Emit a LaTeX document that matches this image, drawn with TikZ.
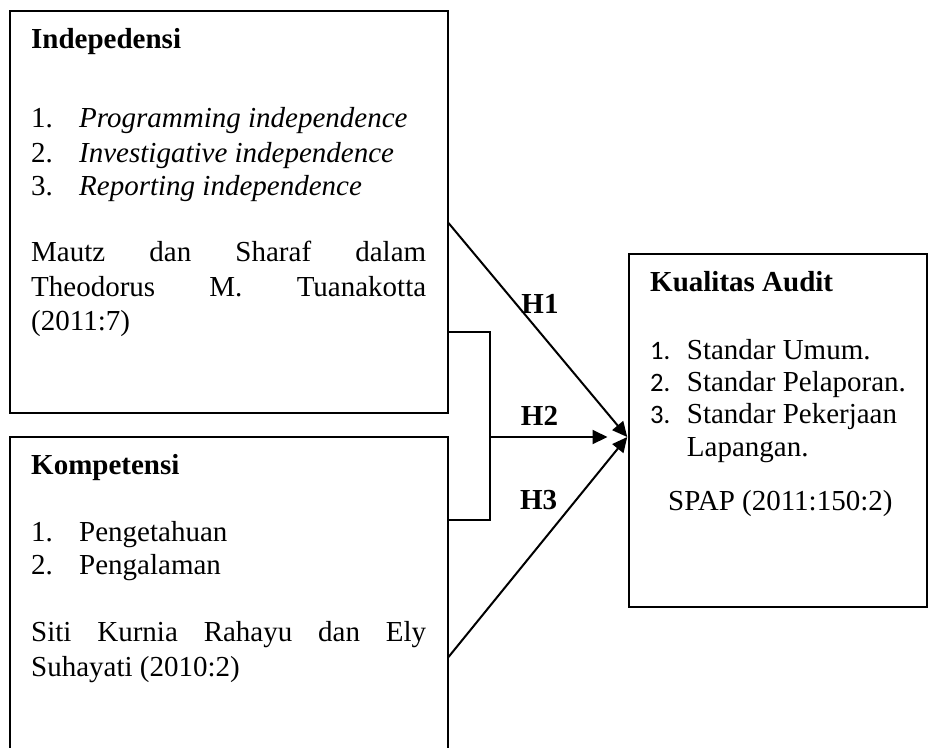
\documentclass[tikz,border=0pt]{standalone}
\usepackage{fontspec}
\setmainfont{Liberation Serif}
\newfontfamily\calfont{Carlito}
\usetikzlibrary{arrows.meta,positioning,calc}

\begin{document}
\begin{tikzpicture}[
        x=1pt, y=-1pt,
        box/.style={rectangle, draw, line width=2pt, inner sep=0pt},
        txt/.style={anchor=base west, inner sep=0pt, font=\fontsize{29}{33.5}\selectfont},
        head/.style={txt, font=\fontsize{29}{33.5}\selectfont\bfseries},
        num/.style={txt, font=\fontsize{26.6}{32}\selectfont\calfont},
        lbl/.style={font=\fontsize{29}{33.5}\selectfont\bfseries, inner sep=0pt},
        arrow/.style={-{Triangle[length=15pt,width=14pt]}, line width=2pt},
        link/.style={line width=2pt}
    ]
    \useasboundingbox (0,0) rectangle (928,747);

    % Independent variables
    \node[box, minimum width=437.5pt, minimum height=402.5pt] (ind) at (228.75,211.75) {};
    \node[box, minimum width=437.5pt, minimum height=363pt] (komp) at (228.75,618.5) {};
    % Dependent variable
    \node[box, minimum width=297.5pt, minimum height=352.5pt] (kual) at (778,430.3) {};

    % Indepedensi text
    \node[head] (indH) at (31,48.3) {Indepedensi};
    \foreach \n/\t/\yy in {1/Programming/127.7, 2/Investigative/162.3, 3/Reporting/195}{
        \node[txt] (indN\n) at (31,\yy) {\n.};
        \node[txt] (indI\n) at (79,\yy) {\itshape \t\ independence};
    }
    \node[txt] (indR1) at (31,261.7) {\makebox[395pt][s]{Mautz dan Sharaf dalam}};
    \node[txt] (indR2) at (31,296.7) {\makebox[395pt][s]{Theodorus M. Tuanakotta}};
    \node[txt] (indR3) at (31,330) {(2011:7)};

    % Kompetensi text
    \node[head] (kompH) at (31,474) {Kompetensi};
    \foreach \n/\t/\yy in {1/Pengetahuan/541.7, 2/Pengalaman/574}{
        \node[txt] (kompN\n) at (31,\yy) {\n.};
        \node[txt] (kompI\n) at (79,\yy) {\t};
    }
    \node[txt] (kompR1) at (31,641.7) {\makebox[395pt][s]{Siti Kurnia Rahayu dan Ely}};
    \node[txt] (kompR2) at (31,676.7) {Suhayati (2010:2)};

    % Kualitas Audit text
    \node[head] (kualH) at (650,291.7) {Kualitas Audit};
    \foreach \n/\t/\yy in {1/Standar Umum./359.3, 2/Standar Pelaporan./391.7, 3/Standar Pekerjaan/423.3}{
        \node[num] (kualN\n) at (650,\yy) {\n.};
        \node[txt] (kualI\n) at (686.7,\yy) {\t};
    }
    \node[txt] (kualI4) at (686.7,456.7) {Lapangan.};
    \node[txt] (kualR) at (668,510) {SPAP (2011:150:2)};

    % Hypotheses
    \coordinate (jn) at (490,437);
    \coordinate (h2end) at (607.5,437);
    \coordinate (tip) at ($(kual.west)+(-1,6.7)$);
    \draw[link] (ind.east |- 0,332) -| (jn) |- (komp.east |- 0,520);
    \draw[arrow] (ind.east |- 0,223) -- node[lbl, pos=0.512, yshift=28.6pt] {H1} (tip);
    \draw[arrow] (jn) -- node[lbl, pos=0.421, yshift=21pt] {H2} (h2end);
    \draw[arrow] (komp.east |- 0,657) -- node[lbl, pos=0.504, yshift=46pt] {H3} (tip);

\end{tikzpicture}
\end{document}
